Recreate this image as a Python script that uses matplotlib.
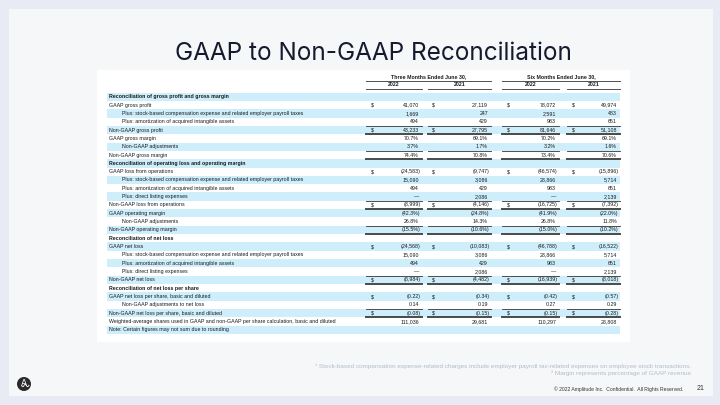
import numpy as np
import matplotlib.pyplot as plt
from matplotlib.patches import Rectangle, Circle

# Table content
labels = [
    'Reconciliation of gross profit and gross margin',
    'GAAP gross profit',
    'Plus: stock-based compensation expense and related employer payroll taxes',
    'Plus: amortization of acquired intangible assets',
    'Non-GAAP gross profit',
    'GAAP gross margin',
    'Non-GAAP adjustments',
    'Non-GAAP gross margin',
    'Reconciliation of operating loss and operating margin',
    'GAAP loss from operations',
    'Plus: stock-based compensation expense and related employer payroll taxes',
    'Plus: amortization of acquired intangible assets',
    'Plus: direct listing expenses',
    'Non-GAAP loss from operations',
    'GAAP operating margin',
    'Non-GAAP adjustments',
    'Non-GAAP operating margin',
    'Reconciliation of net loss',
    'GAAP net loss',
    'Plus: stock-based compensation expense and related employer payroll taxes',
    'Plus: amortization of acquired intangible assets',
    'Plus: direct listing expenses',
    'Non-GAAP net loss',
    'Reconciliation of net loss per share',
    'GAAP net loss per share, basic and diluted',
    'Non-GAAP adjustments to net loss',
    'Non-GAAP net loss per share, basic and diluted',
    'Weighted-average shares used in GAAP and non-GAAP per share calculation, basic and diluted',
    'Note: Certain figures may not sum due to rounding',
]

three_m_2022 = ['', '41,070', '1,669', '494', '43,233', '70.7%', '3.7%', '74.4%',
                '', '(24,583)', '15,090', '494', '—', '(8,999)', '(42.3%)', '26.8%', '(15.5%)',
                '', '(24,568)', '15,090', '494', '—', '(8,984)',
                '', '(0.22)', '0.14', '(0.08)', '111,036', '']
three_m_2021 = ['', '27,119', '247', '429', '27,795', '69.1%', '1.7%', '70.8%',
                '', '(9,747)', '3,086', '429', '2,086', '(4,146)', '(24.8%)', '14.3%', '(10.6%)',
                '', '(10,083)', '3,086', '429', '2,086', '(4,482)',
                '', '(0.34)', '0.19', '(0.15)', '29,681', '']
six_m_2022 = ['', '78,072', '2,591', '983', '81,646', '70.2%', '3.2%', '73.4%',
              '', '(46,574)', '28,866', '983', '—', '(16,725)', '(41.9%)', '26.8%', '(15.0%)',
              '', '(46,788)', '28,866', '983', '—', '(16,939)',
              '', '(0.42)', '0.27', '(0.15)', '110,297', '']
six_m_2021 = ['', '49,974', '483', '651', '51,108', '69.1%', '1.6%', '70.6%',
              '', '(15,896)', '5,714', '651', '2,139', '(7,392)', '(22.0%)', '11.8%', '(10.2%)',
              '', '(16,522)', '5,714', '651', '2,139', '(8,018)',
              '', '(0.57)', '0.29', '(0.28)', '28,808', '']

periods = ['Three Months Ended June 30,', 'Six Months Ended June 30,']
years = ['2022', '2021', '2022', '2021']

section_rows = [0, 8, 17, 23]
indent_rows = [2, 3, 6, 10, 11, 12, 15, 19, 20, 21, 25]
dollar_rows = [1, 4, 9, 13, 18, 22, 24, 26]
total_rows = [4, 7, 13, 16, 22, 26]

columns = [three_m_2022, three_m_2021, six_m_2022, six_m_2021]

# Layout (pixel space)
line_left = [366, 428, 502, 567]
line_right = [422, 491, 559, 620]
dollar_x = [371, 432, 507, 572]
value_right = [419, 488, 556, 617]
row0 = 96.7
row_h = 8.33

fig = plt.figure(figsize=(7.2, 4.05), dpi=100)
fig.patch.set_facecolor('#e8ebf3')
ax = fig.add_axes([0, 0, 1, 1])
ax.set_xlim(0, 720)
ax.set_ylim(405, 0)
ax.axis('off')

# slide panel
ax.add_patch(Rectangle((9, 9), 704, 387, facecolor='#f5f7f8', edgecolor='none'))
ax.text(373, 53, 'GAAP to Non-GAAP Reconciliation', family='Inter', fontsize=17.5,
        fontweight='normal', color='#161a2e', ha='center', va='center')

# table panel
ax.add_patch(Rectangle((97, 70), 533, 272, facecolor='white', edgecolor='none'))

tfont = dict(family='Liberation Sans', fontsize=3.8, color='#1a1a1a', va='center')

# header
for g, p in enumerate(periods):
    l, r = line_left[2 * g], line_right[2 * g + 1]
    ax.text((l + r) / 2, 76.5, p, ha='center', fontweight='bold', **tfont)
    ax.plot([l, r], [80.5, 80.5], color='#333333', lw=0.6)
for c, y in enumerate(years):
    l, r = line_left[c], line_right[c]
    ax.text((l + r) / 2, 85, y, ha='center', fontweight='bold', **tfont)
    ax.plot([l, r], [89, 89], color='#333333', lw=0.6)

# rows
for i, lab in enumerate(labels):
    yc = row0 + i * row_h
    if i % 2 == 0:
        ax.add_patch(Rectangle((107, yc - row_h / 2), 513, row_h,
                               facecolor='#cdeefa', edgecolor='none'))
    x = 122 if i in indent_rows else 109
    ax.text(x, yc, lab, ha='left',
            fontweight='bold' if i in section_rows else 'normal', **tfont)
    for c, col in enumerate(columns):
        v = col[i]
        if v:
            xr = value_right[c] + (1.3 if v.endswith(')') else 0)
            ax.text(xr, yc, v, ha='right', **tfont)
        if i in dollar_rows:
            ax.text(dollar_x[c], yc, '$', ha='left', **tfont)
        if i in total_rows:
            top = yc - row_h / 2 + 0.3
            bot = yc + row_h / 2 - 0.2
            ax.plot([line_left[c], line_right[c]], [top, top], color='#333333', lw=0.6)
            ax.plot([line_left[c], line_right[c]], [bot, bot], color='#4a4a4a', lw=1.4)

# footnotes
fn = dict(family='Liberation Sans', fontsize=4.55, color='#b3bdca', ha='right', va='center')
ax.text(691, 366.5, '¹ Stock-based compensation expense-related charges include employer payroll '
        'tax-related expenses on employee stock transactions.', **fn)
ax.text(691, 373.5, '² Margin represents percentage of GAAP revenue', **fn)

# footer
ax.text(683, 389, '© 2022 Amplitude Inc.  Confidential.  All Rights Reserved.',
        family='Liberation Sans', fontsize=3.6, color='#333333', ha='right', va='center')
ax.text(701, 388.5, '21', family='Liberation Sans', fontsize=5, color='#333333',
        ha='center', va='center')

# logo
ax.add_patch(Circle((24, 384), 7, facecolor='#2a2a2a', edgecolor='none'))
ax.text(23.5, 384, 'A', family='DejaVu Sans', fontsize=6.5, color='white',
        ha='center', va='center')
t = np.linspace(-2, 5, 40)
ax.plot(24 + t, 385.5 - 1.2 * np.sin(t * 1.3), color='white', lw=0.6)

fig.savefig('out.png', dpi=100, facecolor=fig.get_facecolor())
